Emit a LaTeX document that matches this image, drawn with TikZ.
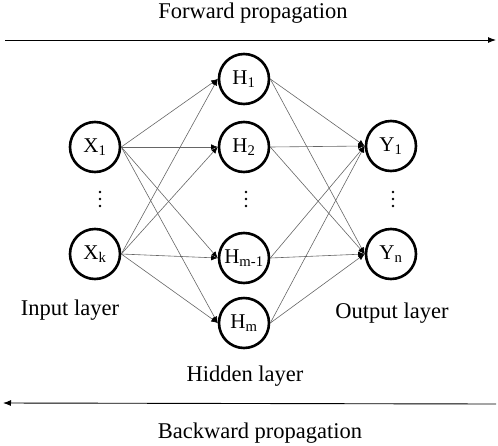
\documentclass[tikz,border=0pt]{standalone}
\usepackage{fontspec}
\setmainfont{Liberation Serif}
\usetikzlibrary{arrows.meta}
\begin{document}
\begin{tikzpicture}[x=1pt,y=-1pt,
  neuron/.style={circle,draw,line width=2.6pt,minimum size=50pt,inner sep=0pt,font=\fontsize{21}{25}\selectfont},
  edge/.style={draw=black!60,line width=0.6pt,-{Latex[length=6.5pt,width=5.5pt,color=black]}},
  lbl/.style={anchor=base,inner sep=0pt,font=\fontsize{22.5}{27}\selectfont},
  prop/.style={line width=0.9pt,-{Latex[length=8pt,width=6pt]}}]
\useasboundingbox (0,0) rectangle (498,445);
% nodes
\node[neuron] (x1) at (95,147) {X\textsubscript{1}};
\node[neuron] (xk) at (95,254) {X\textsubscript{k}};
\node[neuron] (h1) at (244,79) {H\textsubscript{1}};
\node[neuron] (h2) at (244,147) {H\textsubscript{2}};
\node[neuron] (hm1) at (244,258) {H\textsubscript{m-1}};
\node[neuron] (hm) at (244,323) {H\textsubscript{m}};
\node[neuron] (y1) at (391,146) {Y\textsubscript{1}};
\node[neuron] (yn) at (391,254) {Y\textsubscript{n}};
% vertical dots
\foreach \px in {100,246,393}
  \foreach \py in {192,199,206}
    \fill (\px,\py) circle (1.4pt);
% edges
\foreach \a in {x1,xk}
  \foreach \b in {h1,h2,hm1,hm}
    \draw[edge] (\a.east) -- (\b.west);
\foreach \a in {h1,h2,hm1,hm}
  \foreach \b in {y1,yn}
    \draw[edge] (\a.east) -- (\b.west);
% labels
\node[lbl] (fwd) at (253,18.5) {Forward propagation};
\node[lbl] (bwd) at (260,438) {Backward propagation};
\node[lbl] (inl) at (70,315) {Input layer};
\node[lbl] (outl) at (392,318) {Output layer};
\node[lbl] (hidl) at (245,381) {Hidden layer};
% propagation arrows
\coordinate (fs) at (5,40);
\coordinate (fe) at (496,40);
\draw[prop] (fs) -- (fe);
\coordinate (bs) at (496,404);
\coordinate (be) at (3,403);
\draw[prop] (bs) -- (be);
\end{tikzpicture}
\end{document}
